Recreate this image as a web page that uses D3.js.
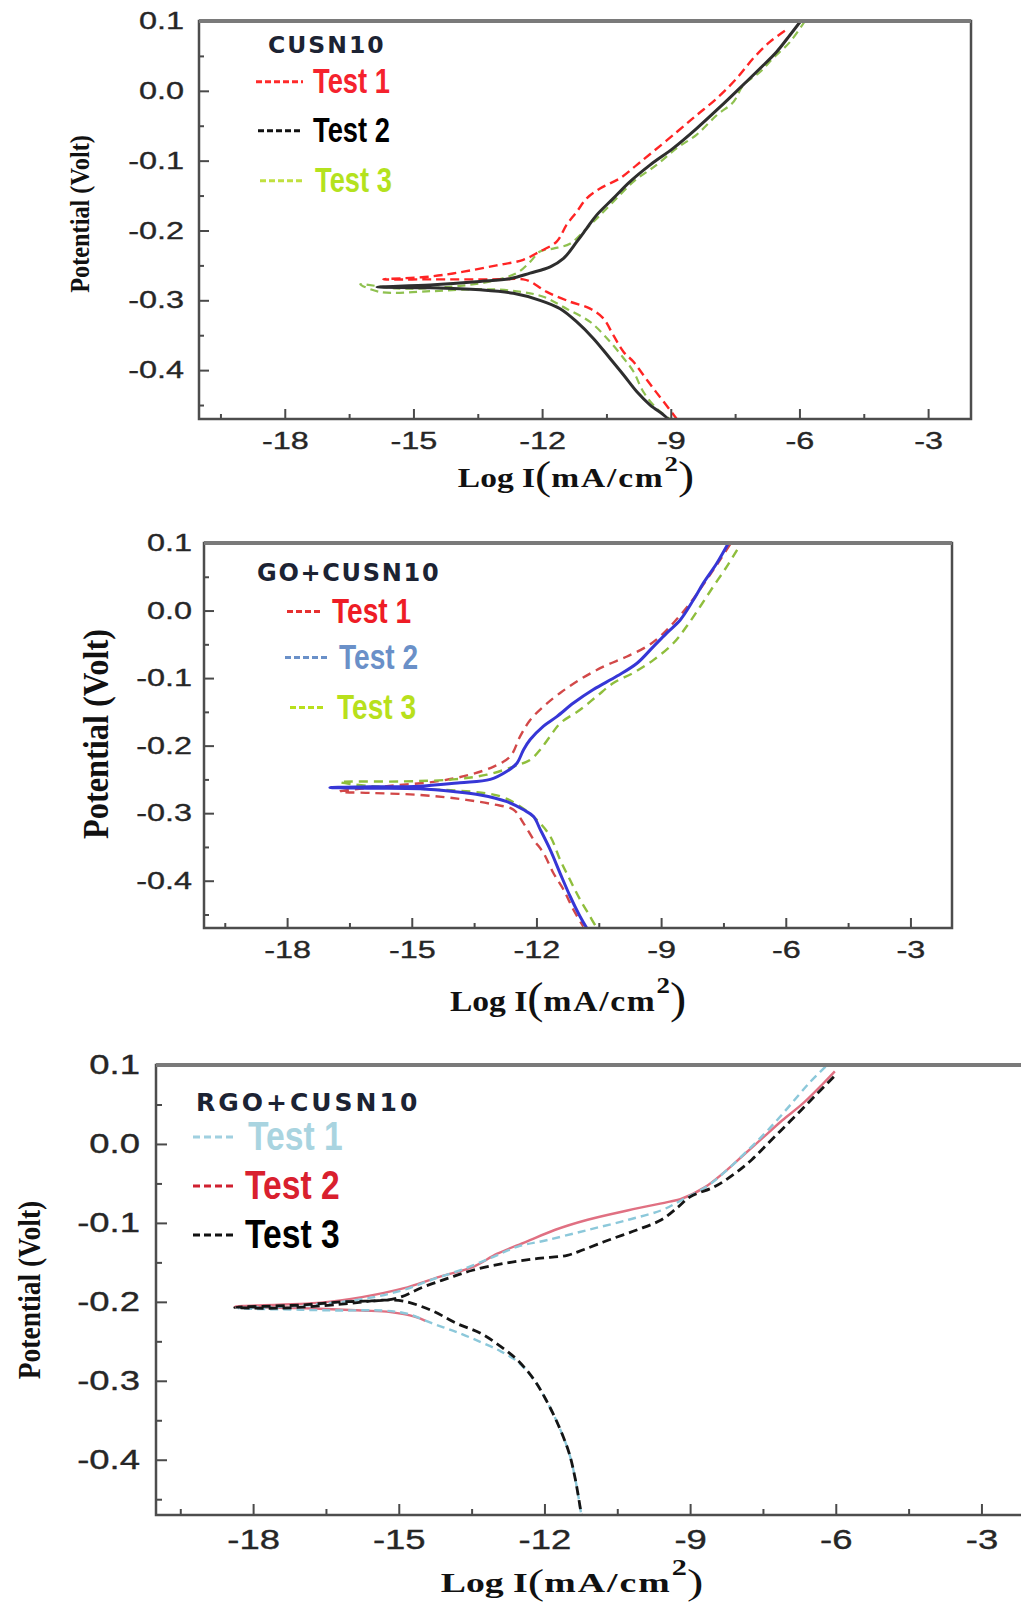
<!DOCTYPE html>
<html lang="en">
<head>
<meta charset="UTF-8">
<title>Tafel plots</title>
<script src="https://d3js.org/d3.v7.min.js"></script>
<style>
    body {margin: 0; background: #ffffff;}
    svg {display: block;}
</style>
</head>
<body>
<div id="chart"></div>
<script>
// Axis ticks shared by the three panels
var xTickValues = [-18, -15, -12, -9, -6, -3];
var xTickLabels = ["-18", "-15", "-12", "-9", "-6", "-3"];
var xMinorValues = [-19.5, -16.5, -13.5, -10.5, -7.5, -4.5];
var yTickValues = [0.1, 0.0, -0.1, -0.2, -0.3, -0.4];
var yTickLabels = ["0.1", "0.0", "-0.1", "-0.2", "-0.3", "-0.4"];
var yMinorValues = [0.05, -0.05, -0.15, -0.25, -0.35, -0.45];
var xDomain = [-20, -2];
var yDomain = [-0.47, 0.1];

var panelTitles = ["CUSN10", "GO+CUSN10", "RGO+CUSN10"];
var legendLabels = ["Test 1", "Test 2", "Test 3"];

// CUSN10 : log I and potential, from the anodic end, through Ecorr, to the cathodic end
var cuTest1LogI = [-6.34, -6.69, -7.07, -7.46, -7.93, -8.40, -8.86, -9.41, -9.79, -10.18, -10.65, -10.96, -11.19, -11.43, -11.66, -12.05, -12.44, -13.06, -13.83, -14.61, -15.70,
    -14.60, -13.20, -12.44, -12.28, -11.89, -11.35, -10.88, -10.57, -10.34, -10.10, -9.87, -9.64, -9.41, -9.17, -8.86];
var cuTest1E = [0.086, 0.070, 0.047, 0.018, -0.011, -0.035, -0.059, -0.087, -0.106, -0.125, -0.140, -0.154, -0.173, -0.192, -0.216, -0.230, -0.242, -0.250, -0.259, -0.266, -0.270,
    -0.270, -0.270, -0.270, -0.273, -0.288, -0.302, -0.312, -0.326, -0.350, -0.374, -0.388, -0.407, -0.426, -0.445, -0.470];

var cuTest2LogI = [-5.97, -6.22, -6.53, -6.92, -7.39, -7.85, -8.40, -8.94, -9.48, -9.95, -10.34, -10.73, -10.96, -11.19, -11.50, -11.81, -12.28, -12.75, -13.45, -14.61, -15.85,
    -14.61, -13.45, -12.67, -12.05, -11.58, -11.19, -10.80, -10.42, -10.10, -9.79, -9.48, -9.17, -9.06];
var cuTest2E = [0.100, 0.080, 0.056, 0.032, 0.004, -0.023, -0.054, -0.082, -0.106, -0.130, -0.154, -0.178, -0.197, -0.216, -0.240, -0.252, -0.261, -0.269, -0.273, -0.278, -0.281,
    -0.282, -0.285, -0.290, -0.300, -0.312, -0.331, -0.355, -0.383, -0.407, -0.431, -0.450, -0.464, -0.470];

var cuTest3LogI = [-5.87, -6.22, -6.61, -6.92, -7.31, -7.54, -7.93, -8.40, -8.86, -9.33, -9.87, -10.34, -10.73, -11.04, -11.35, -11.74, -12.05, -12.28, -12.59, -13.21, -14.22, -15.39, -16.24,
    -15.78, -14.61, -13.45, -12.59, -11.97, -11.43, -10.88, -10.42, -10.10, -9.87, -9.64, -9.33, -9.02];
var cuTest3E = [0.100, 0.070, 0.047, 0.027, 0.008, -0.016, -0.035, -0.063, -0.082, -0.106, -0.130, -0.159, -0.183, -0.202, -0.219, -0.226, -0.230, -0.245, -0.261, -0.273, -0.281, -0.283, -0.277,
    -0.288, -0.287, -0.284, -0.287, -0.295, -0.312, -0.331, -0.359, -0.383, -0.402, -0.431, -0.455, -0.470];

// GO+CUSN10
var goTest1LogI = [-7.34, -7.58, -7.90, -8.30, -8.70, -9.02, -9.34, -9.82, -10.39, -10.95, -11.43, -11.83, -12.15, -12.39, -12.63, -13.03, -13.60, -14.40, -15.60, -16.73,
    -16.00, -14.80, -13.84, -13.03, -12.55, -12.31, -12.07, -11.83, -11.59, -11.35, -11.11, -10.87];
var goTest1E = [0.098, 0.075, 0.046, 0.011, -0.018, -0.038, -0.053, -0.068, -0.083, -0.102, -0.122, -0.142, -0.162, -0.186, -0.216, -0.231, -0.243, -0.253, -0.260, -0.268,
    -0.270, -0.273, -0.279, -0.287, -0.295, -0.315, -0.339, -0.359, -0.389, -0.413, -0.443, -0.468];

var goTest2LogI = [-7.38, -7.66, -7.98, -8.22, -8.54, -8.86, -9.18, -9.58, -10.06, -10.63, -11.11, -11.51, -11.83, -12.15, -12.31, -12.47, -12.71, -13.11, -13.84, -14.80, -16.00, -16.97,
    -16.00, -14.80, -14.00, -13.35, -12.71, -12.31, -12.07, -11.91, -11.67, -11.43, -11.19, -10.95, -10.79];
var goTest2E = [0.100, 0.070, 0.041, 0.016, -0.014, -0.033, -0.053, -0.078, -0.097, -0.117, -0.137, -0.157, -0.171, -0.191, -0.206, -0.226, -0.238, -0.250, -0.255, -0.260, -0.261, -0.262,
    -0.263, -0.264, -0.268, -0.273, -0.283, -0.295, -0.305, -0.324, -0.354, -0.389, -0.423, -0.453, -0.470];

var goTest3LogI = [-7.17, -7.42, -7.74, -8.06, -8.38, -8.70, -9.18, -9.66, -10.14, -10.55, -10.95, -11.43, -11.67, -11.91, -12.15, -12.55, -13.19, -14.00, -15.20, -16.73,
    -16.00, -14.80, -13.60, -12.87, -12.39, -11.99, -11.67, -11.43, -11.19, -10.95, -10.71, -10.55];
var goTest3E = [0.090, 0.065, 0.036, 0.006, -0.023, -0.048, -0.073, -0.092, -0.107, -0.127, -0.147, -0.167, -0.186, -0.206, -0.221, -0.231, -0.243, -0.250, -0.253, -0.254,
    -0.260, -0.264, -0.268, -0.275, -0.290, -0.310, -0.334, -0.369, -0.399, -0.428, -0.453, -0.470];

// RGO+CUSN10
var rgoTest1LogI = [-6.21, -6.55, -6.97, -7.39, -7.81, -8.24, -8.66, -9.17, -9.59, -10.27, -11.11, -11.96, -12.55, -13.05, -13.65, -14.32, -14.91, -15.51, -16.18, -17.03, -18.30,
    -17.03, -16.18, -15.34, -14.83, -14.32, -13.82, -13.31, -12.89, -12.55, -12.21, -11.96, -11.70, -11.49, -11.36, -11.24];
var rgoTest1E = [0.098, 0.077, 0.047, 0.018, -0.008, -0.033, -0.054, -0.071, -0.084, -0.096, -0.109, -0.122, -0.130, -0.143, -0.158, -0.172, -0.185, -0.194, -0.200, -0.205, -0.208,
    -0.210, -0.211, -0.211, -0.215, -0.227, -0.238, -0.251, -0.263, -0.276, -0.299, -0.325, -0.358, -0.392, -0.426, -0.470];

// Test 2 cathodic branch only shows until it merges under Test 1
var rgoTest2LogI = [-6.02, -6.30, -6.70, -7.10, -7.50, -7.90, -8.30, -8.70, -9.20, -9.42, -10.27, -11.11, -11.79, -12.38, -12.97, -13.48, -14.15, -14.91, -15.76, -16.61, -18.38,
    -17.03, -15.76, -15.17, -14.66, -14.45];
var rgoTest2E = [0.092, 0.074, 0.050, 0.030, 0.008, -0.014, -0.036, -0.055, -0.070, -0.073, -0.084, -0.096, -0.109, -0.124, -0.139, -0.156, -0.168, -0.183, -0.194, -0.201, -0.206,
    -0.208, -0.211, -0.213, -0.219, -0.224];

var rgoTest3LogI = [-6.04, -6.38, -6.71, -7.05, -7.39, -7.73, -8.07, -8.49, -9.00, -9.25, -9.59, -10.10, -10.69, -11.20, -11.53, -12.13, -12.80, -13.48, -13.98, -14.49, -15.08, -16.18, -17.03, -18.38,
    -17.45, -16.18, -15.34, -14.91, -14.32, -13.82, -13.31, -12.89, -12.55, -12.21, -11.96, -11.70, -11.49, -11.36, -11.24];
var rgoTest3E = [0.085, 0.064, 0.043, 0.022, 0.001, -0.020, -0.037, -0.054, -0.067, -0.080, -0.096, -0.109, -0.122, -0.134, -0.141, -0.145, -0.151, -0.160, -0.170, -0.181, -0.196, -0.200, -0.204, -0.207,
    -0.208, -0.203, -0.198, -0.199, -0.211, -0.227, -0.240, -0.257, -0.274, -0.299, -0.325, -0.358, -0.392, -0.426, -0.470];

// Layout of each panel (pixel positions and styles)
var panels = [
    {
        left: 199, right: 971, top: 21, bottom: 419,
        tickFont: 24, tickStretch: 1.35, xPad: 13, yPad: 15, major: 10, minor: 5,
        yTitle: {x: 80, y: 214, size: 27, squeeze: 0.9},
        xTitle: {x: 576, y: 487, size: 27, stretch: 1.24, paren: 1.45},
        title: {x: 268, y: 53, size: 23.5, spacing: 2},
        legendSize: 35, legendSqueeze: 0.78, legendX: [313, 313, 315], legendY: [93, 142, 192],
        legendLine: [[256, 303], [258, 303], [260, 305]], legendDash: "6,3",
        legendText: ["#f5222d", "#000000", "#b4e21e"], legendStroke: ["#ff2a2a", "#111111", "#c0e040"],
        series: [
            {x: cuTest3LogI, y: cuTest3E, color: "#8fc150", width: 2.2, dash: "8,5"},
            {x: cuTest1LogI, y: cuTest1E, color: "#ff2424", width: 2.4, dash: "9,5"},
            {x: cuTest2LogI, y: cuTest2E, color: "#2e2e2e", width: 3, dash: null}
        ]
    },
    {
        left: 204, right: 952, top: 543, bottom: 928,
        tickFont: 24, tickStretch: 1.35, xPad: 13, yPad: 12, major: 10, minor: 5,
        yTitle: {x: 95, y: 734, size: 36, squeeze: 0.9},
        xTitle: {x: 568, y: 1011, size: 30, stretch: 1.12, paren: 1.45},
        title: {x: 257, y: 581, size: 24, spacing: 1.7},
        legendSize: 36, legendSqueeze: 0.78, legendX: [332, 339, 337], legendY: [623, 669, 719],
        legendLine: [[287, 323], [285, 330], [290, 326]], legendDash: "6,3",
        legendText: ["#ee1c25", "#6a90c8", "#b8e01c"], legendStroke: ["#e63030", "#6a90c8", "#b8e01c"],
        series: [
            {x: goTest1LogI, y: goTest1E, color: "#d24848", width: 2.4, dash: "9,6"},
            {x: goTest3LogI, y: goTest3E, color: "#8fbe3c", width: 2.4, dash: "9,6"},
            {x: goTest2LogI, y: goTest2E, color: "#3636d6", width: 3, dash: null}
        ]
    },
    {
        left: 156, right: 1030, top: 1065, bottom: 1515,
        tickFont: 27, tickStretch: 1.35, xPad: 15, yPad: 16, major: 11, minor: 6,
        yTitle: {x: 29, y: 1290, size: 32, squeeze: 0.86},
        xTitle: {x: 572, y: 1592, size: 28, stretch: 1.35, paren: 1.3},
        title: {x: 196, y: 1111, size: 25, spacing: 3},
        legendSize: 41, legendSqueeze: 0.82, legendX: [248, 245, 245], legendY: [1150, 1199, 1248],
        legendLine: [[193, 235], [193, 234], [193, 234]], legendDash: "7,4",
        legendText: ["#a9d4e0", "#d9202e", "#000000"], legendStroke: ["#a0d0e0", "#d02030", "#111111"],
        series: [
            {x: rgoTest2LogI, y: rgoTest2E, color: "#e07082", width: 2.4, dash: null},
            {x: rgoTest1LogI, y: rgoTest1E, color: "#8cc8da", width: 2.4, dash: "8,5"},
            {x: rgoTest3LogI, y: rgoTest3E, color: "#151515", width: 2.8, dash: "9,5"}
        ]
    }
];

var svg = d3.select("#chart").append("svg")
    .attr("width", 1021)
    .attr("height", 1602);

var sansFont = "'Liberation Sans', Arial, sans-serif";
var serifFont = "'Liberation Serif', 'Times New Roman', serif";

panels.forEach(function(p, idx){
    var x = d3.scaleLinear().domain(xDomain).range([p.left, p.right]);
    var y = d3.scaleLinear().domain(yDomain).range([p.bottom, p.top]);
    var g = svg.append("g");

    // clip the curves to the frame
    var clipId = "clip" + idx;
    svg.append("clipPath").attr("id", clipId)
        .append("rect")
        .attr("x", p.left).attr("y", p.top)
        .attr("width", p.right - p.left).attr("height", p.bottom - p.top);

    var line = d3.line()
        .x(function(d){ return x(d[0]); })
        .y(function(d){ return y(d[1]); })
        .curve(d3.curveCatmullRom.alpha(0.5));

    var curves = g.append("g").attr("clip-path", "url(#" + clipId + ")");
    p.series.forEach(function(s){
        var pts = s.x.map(function(v, i){ return [v, s.y[i]]; });
        curves.append("path")
            .datum(pts)
            .attr("d", line)
            .attr("fill", "none")
            .attr("stroke", s.color)
            .attr("stroke-width", s.width)
            .attr("stroke-dasharray", s.dash)
            .attr("stroke-linejoin", "round");
    });

    // major and minor ticks, pointing inward
    var xAxis = d3.axisBottom(x).tickValues(xTickValues).tickSize(-p.major).tickPadding(p.xPad)
        .tickFormat(function(d, i){ return xTickLabels[i]; });
    var xMinor = d3.axisBottom(x).tickValues(xMinorValues).tickSize(-p.minor).tickFormat("");
    var yAxis = d3.axisLeft(y).tickValues(yTickValues).tickSize(-p.major).tickPadding(p.yPad)
        .tickFormat(function(d, i){ return yTickLabels[i]; });
    var yMinor = d3.axisLeft(y).tickValues(yMinorValues).tickSize(-p.minor).tickFormat("");

    var gx = g.append("g").attr("transform", "translate(0," + p.bottom + ")").call(xAxis);
    var gxm = g.append("g").attr("transform", "translate(0," + p.bottom + ")").call(xMinor);
    var gy = g.append("g").attr("transform", "translate(" + p.left + ",0)").call(yAxis);
    var gym = g.append("g").attr("transform", "translate(" + p.left + ",0)").call(yMinor);

    [gx, gxm, gy, gym].forEach(function(a){
        a.select(".domain").remove();
        a.selectAll("line").attr("stroke", "#4a4a4a").attr("stroke-width", 2);
    });

    [gx, gy].forEach(function(a){
        a.selectAll("text")
            .attr("font-family", sansFont)
            .attr("font-size", p.tickFont)
            .attr("fill", "#262626")
            .attr("stroke", "#262626")
            .attr("stroke-width", 0.35)
            .attr("transform", "scale(" + p.tickStretch + ",1)");
    });
    gy.selectAll("text").attr("x", -p.yPad / p.tickStretch);

    // frame
    g.append("rect")
        .attr("x", p.left).attr("y", p.top)
        .attr("width", p.right - p.left).attr("height", p.bottom - p.top)
        .attr("fill", "none")
        .attr("stroke", "#4d4d4d")
        .attr("stroke-width", 2.5);
    g.append("line")
        .attr("x1", p.left).attr("x2", p.right)
        .attr("y1", p.top).attr("y2", p.top)
        .attr("stroke", "#7a7a7a")
        .attr("stroke-width", 4);

    // axis titles
    g.append("text")
        .attr("transform", "translate(" + p.yTitle.x + "," + p.yTitle.y + ") rotate(-90) scale(" + p.yTitle.squeeze + ",1)")
        .attr("text-anchor", "middle")
        .attr("dy", "0.35em")
        .attr("font-family", serifFont)
        .attr("font-weight", "bold")
        .attr("font-size", p.yTitle.size)
        .attr("fill", "#111")
        .text("Potential (Volt)");

    var fs = p.xTitle.size;
    var xt = g.append("text")
        .attr("transform", "translate(" + p.xTitle.x + "," + p.xTitle.y + ") scale(" + p.xTitle.stretch + ",1)")
        .attr("text-anchor", "middle")
        .attr("font-family", serifFont)
        .attr("font-weight", "bold")
        .attr("font-size", fs)
        .attr("fill", "#111");
    xt.append("tspan").text("Log I");
    xt.append("tspan").attr("font-size", fs * p.xTitle.paren).attr("font-weight", "normal").attr("dy", fs * 0.06).text("(");
    xt.append("tspan").attr("letter-spacing", 1.5).attr("dy", -fs * 0.06).text("mA/cm");
    xt.append("tspan").attr("font-size", fs * 0.8).attr("dy", -fs * 0.6).text("2");
    xt.append("tspan").attr("font-size", fs * p.xTitle.paren).attr("font-weight", "normal").attr("dy", fs * 0.66).text(")");

    // legend
    g.append("text")
        .attr("x", p.title.x).attr("y", p.title.y)
        .attr("font-family", "'DejaVu Sans', Verdana, sans-serif")
        .attr("font-weight", "bold")
        .attr("font-size", p.title.size)
        .attr("letter-spacing", p.title.spacing)
        .attr("fill", "#1c2333")
        .text(panelTitles[idx]);

    legendLabels.forEach(function(lab, i){
        g.append("line")
            .attr("x1", p.legendLine[i][0]).attr("x2", p.legendLine[i][1])
            .attr("y1", p.legendY[i] - p.legendSize * 0.32)
            .attr("y2", p.legendY[i] - p.legendSize * 0.32)
            .attr("stroke", p.legendStroke[i])
            .attr("stroke-width", 3)
            .attr("stroke-dasharray", p.legendDash);
        g.append("text")
            .attr("transform", "translate(" + p.legendX[i] + "," + p.legendY[i] + ") scale(" + p.legendSqueeze + ",1)")
            .attr("font-family", sansFont)
            .attr("font-weight", "bold")
            .attr("font-size", p.legendSize)
            .attr("fill", p.legendText[i])
            .text(lab);
    });
});
</script>
</body>
</html>
